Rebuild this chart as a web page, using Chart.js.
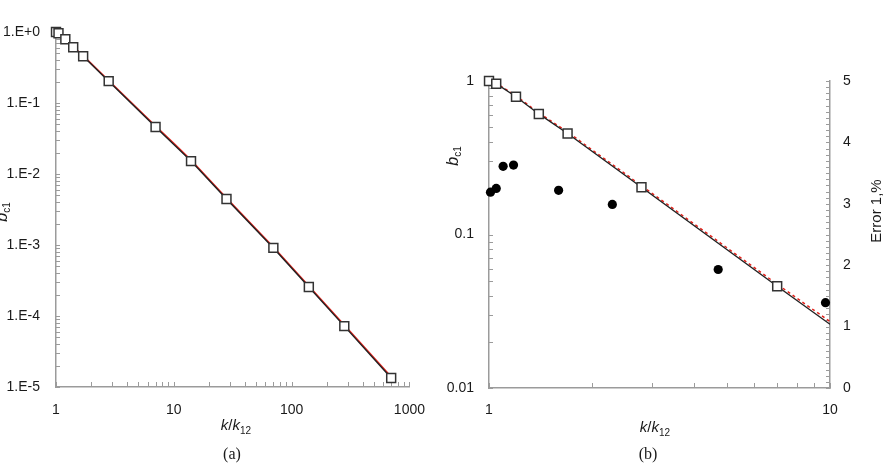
<!DOCTYPE html>
<html>
<head>
<meta charset="utf-8">
<script src="https://cdn.jsdelivr.net/npm/chart.js@4.4.1/dist/chart.umd.min.js"></script>
<style>
  html, body { margin: 0; padding: 0; background: #fff; }
  #wrap { position: relative; width: 891px; height: 464px; overflow: hidden; }
  canvas { position: absolute; top: 0; }
  #chartA { left: 0; }
  #chartB { left: 440px; }
</style>
</head>
<body>
<div id="wrap">
  <canvas id="chartA" width="440" height="464"></canvas>
  <canvas id="chartB" width="451" height="464"></canvas>
</div>
<script>
// values
const kRatio = [1, 1.05, 1.2, 1.4, 1.7, 2.8, 7, 14, 28, 70, 140, 280, 700];
const bc1 = [1, 0.96, 0.79, 0.61, 0.455, 0.203, 0.046, 0.0152, 0.00445, 0.00091, 0.000256, 0.000072, 0.0000134];
// model curves (black solid, red)
const fitK = [1, 1.05, 1.2, 1.4, 1.7, 2.8, 7, 10, 14, 28, 70, 140, 280, 700];
const fitBlack = [1, 0.96, 0.79, 0.61, 0.455, 0.203, 0.046, 0.026, 0.0152, 0.00445, 0.00091, 0.000256, 0.000072, 0.0000134];
const fitRed = [1, 0.968, 0.8, 0.62, 0.465, 0.208, 0.0474, 0.0271, 0.0157, 0.0046, 0.00094, 0.000264, 0.0000745, 0.0000139];
// error 1, % (panel b, right axis)
const errK = [1.01, 1.05, 1.1, 1.18, 1.6, 2.3, 4.7, 9.7];
const err1 = [3.19, 3.25, 3.61, 3.63, 3.22, 2.99, 1.93, 1.39];
// tick labels
const ticksAx = [1, 10, 100, 1000];
const ticksAy = [1, 0.1, 0.01, 0.001, 0.0001, 0.00001];
const ticksBx = [1, 10];
const ticksBy = [1, 0.1, 0.01];
const ticksBy1 = [0, 1, 2, 3, 4, 5];

const SANS = '"Liberation Sans", Arial, Helvetica, sans-serif';
const SERIF = '"Liberation Serif", "Times New Roman", serif';
const AXIS = '#9b9b9b';
const TXT = '#1a1a1a';

function pts(xs, ys, maxX) {
  const out = [];
  xs.forEach((x, i) => { if (x <= maxX) out.push({x: x, y: ys[i]}); });
  return out;
}

function logMarks(lo, hi) {
  const out = [];
  for (let e = Math.floor(Math.log10(lo)); e <= Math.ceil(Math.log10(hi)); e++) {
    for (let m = 1; m < 10; m++) {
      const v = m * Math.pow(10, e);
      if (v >= lo * 0.999 && v <= hi * 1.001) out.push(v);
    }
  }
  return out;
}

function sciLabel(v) {
  const e = Math.round(Math.log10(v));
  return '1.E' + (e >= 0 ? '+' : '-') + Math.abs(e);
}

// tick marks drawn inside the plot area
const innerTicks = {
  id: 'innerTicks',
  beforeDatasetsDraw(chart, args, opts) {
    const ctx = chart.ctx, area = chart.chartArea;
    ctx.save();
    ctx.strokeStyle = AXIS;
    ctx.lineWidth = 1;
    (opts.marks || []).forEach(m => {
      const sc = chart.scales[m.scale];
      m.values.forEach(v => {
        const p = Math.round(sc.getPixelForValue(v)) + 0.5;
        ctx.beginPath();
        if (m.side === 'bottom') { ctx.moveTo(p, area.bottom); ctx.lineTo(p, area.bottom - m.len); }
        else if (m.side === 'left') { ctx.moveTo(area.left, p); ctx.lineTo(area.left + m.len, p); }
        else { ctx.moveTo(area.right, p); ctx.lineTo(area.right - m.len, p); }
        ctx.stroke();
      });
    });
    ctx.restore();
  }
};

// draw a run of [text, font, dy] pieces centred at (cx, cy), optional rotation
function drawRun(ctx, parts, cx, cy, rot) {
  ctx.save();
  ctx.translate(cx, cy);
  if (rot) ctx.rotate(rot);
  ctx.fillStyle = TXT;
  ctx.textBaseline = 'alphabetic';
  ctx.textAlign = 'left';
  let w = 0;
  parts.forEach(p => { ctx.font = p[1]; w += ctx.measureText(p[0]).width; });
  let x = -w / 2;
  parts.forEach(p => { ctx.font = p[1]; ctx.fillText(p[0], x, p[2]); x += ctx.measureText(p[0]).width; });
  ctx.restore();
}

const kTitle = [
  ['k', 'italic 15px ' + SANS, 5],
  ['/', '15px ' + SANS, 5],
  ['k', 'italic 15px ' + SANS, 5],
  ['12', '10px ' + SANS, 9]
];
const bTitle = [
  ['b', 'italic 16px ' + SANS, 5],
  ['c1', '10px ' + SANS, 8]
];

function caption(ctx, text, cx, cy) {
  ctx.save();
  ctx.fillStyle = TXT;
  ctx.font = '16px ' + SERIF;
  ctx.textAlign = 'center';
  ctx.textBaseline = 'middle';
  ctx.fillText(text, cx, cy);
  ctx.restore();
}

const tickFont = {family: SANS, size: 14};

function logAxis(min, max, list, fmt, pad, fit) {
  return {
    type: 'logarithmic',
    min: min, max: max,
    afterBuildTicks: s => { s.ticks = list.map(v => ({value: v})); },
    afterFit: fit,
    grid: {display: false, drawTicks: false},
    border: {display: true, color: AXIS, width: 1.5},
    ticks: {autoSkip: false, maxRotation: 0, padding: pad, color: TXT, font: tickFont, callback: fmt}
  };
}

// ---------- panel (a)
new Chart(document.getElementById('chartA'), {
  type: 'scatter',
  data: {
    datasets: [
      {data: pts(kRatio, bc1, 1000), pointStyle: 'rect', pointRadius: 6.3, pointBackgroundColor: '#fff',
       pointBorderColor: '#333', pointBorderWidth: 1.5, clip: false, order: 0},
      {data: pts(fitK, fitBlack, 1000), showLine: true, borderColor: '#222', borderWidth: 1.4, pointRadius: 0, order: 2},
      {data: pts(fitK, fitRed, 1000), showLine: true, borderColor: '#e3221b', borderWidth: 1.5, pointRadius: 0, order: 3}
    ]
  },
  options: {
    responsive: false,
    animation: false,
    layout: {padding: {left: 0, top: 32, right: 21, bottom: 0}},
    plugins: {
      legend: {display: false},
      tooltip: {enabled: false},
      innerTicks: {marks: [
        {scale: 'x', side: 'bottom', len: 5, values: logMarks(1, 1000)},
        {scale: 'y', side: 'left', len: 4, values: logMarks(0.00001, 1)}
      ]}
    },
    scales: {
      x: logAxis(1, 1000, ticksAx, v => String(v), 15, s => { s.height = 77; }),
      y: logAxis(0.00001, 1, ticksAy, v => sciLabel(v), 16, s => { s.width = 56; })
    }
  },
  plugins: [innerTicks, {
    id: 'textA',
    afterDraw(chart) {
      const ctx = chart.ctx;
      drawRun(ctx, kTitle, 236, 425, 0);
      drawRun(ctx, bTitle, 2, 212, -Math.PI / 2);
      caption(ctx, '(a)', 232, 455);
    }
  }]
});

// ---------- panel (b)
new Chart(document.getElementById('chartB'), {
  type: 'scatter',
  data: {
    datasets: [
      {data: pts(kRatio, bc1, 10), pointStyle: 'rect', pointRadius: 6.3, pointBackgroundColor: '#fff',
       pointBorderColor: '#333', pointBorderWidth: 1.5, clip: false, order: 0},
      {data: pts(errK, err1, 10), yAxisID: 'y1', pointRadius: 4.6, pointBackgroundColor: '#000',
       pointBorderColor: '#000', pointBorderWidth: 0, clip: false, order: 1},
      {data: pts(fitK, fitBlack, 10), showLine: true, borderColor: '#222', borderWidth: 1.4, pointRadius: 0, order: 2},
      {data: pts(fitK, fitRed, 10), showLine: true, borderColor: '#e3221b', borderWidth: 1.5, borderDash: [3, 3],
       pointRadius: 0, order: 3}
    ]
  },
  options: {
    responsive: false,
    animation: false,
    layout: {padding: {left: 0, top: 81, right: 31, bottom: 0}},
    plugins: {
      legend: {display: false},
      tooltip: {enabled: false},
      innerTicks: {marks: [
        {scale: 'x', side: 'bottom', len: 5, values: logMarks(1, 10)},
        {scale: 'y', side: 'left', len: 4, values: logMarks(0.01, 1)},
        {scale: 'y1', side: 'right', len: 4, values: Array.from({length: 51}, (_, i) => i / 10)}
      ]}
    },
    scales: {
      x: logAxis(1, 10, ticksBx, v => String(v), 14, s => { s.height = 76; }),
      y: logAxis(0.01, 1, ticksBy, v => String(v), 15, s => { s.width = 49; }),
      y1: {
        type: 'linear',
        position: 'right',
        min: 0, max: 5,
        afterBuildTicks: s => { s.ticks = ticksBy1.map(v => ({value: v})); },
        afterFit: s => { s.width = 30; },
        grid: {display: false, drawTicks: false},
        border: {display: true, color: AXIS, width: 1.5},
        ticks: {padding: 13, color: TXT, font: tickFont}
      }
    }
  },
  plugins: [innerTicks, {
    id: 'textB',
    afterDraw(chart) {
      const ctx = chart.ctx;
      drawRun(ctx, kTitle, 215, 427, 0);
      drawRun(ctx, bTitle, 13, 156, -Math.PI / 2);
      ctx.save();
      ctx.translate(437, 211);
      ctx.rotate(-Math.PI / 2);
      ctx.fillStyle = TXT;
      ctx.font = '15px ' + SANS;
      ctx.textAlign = 'center';
      ctx.textBaseline = 'middle';
      ctx.fillText('Error 1,%', 0, 0);
      ctx.restore();
      caption(ctx, '(b)', 208, 455);
    }
  }]
});
</script>
</body>
</html>
